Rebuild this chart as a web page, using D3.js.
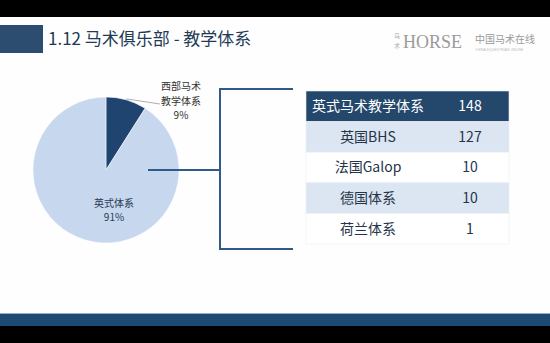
<!DOCTYPE html>
<html lang="zh">
<head>
<meta charset="utf-8">
<title>马术俱乐部 - 教学体系</title>
<script src="https://cdn.jsdelivr.net/npm/d3@7"></script>
<style>
  body { margin: 0; background: #000; }
  svg text { font-family: "Noto Sans CJK SC", "Noto Sans", sans-serif; }
</style>
</head>
<body>
<script>
// pie data
var pieNames = ["西部马术教学体系", "英式体系"];
var pieValues = [9, 91];
var pieLabels = [["西部马术", "教学体系", "9%"], ["英式体系", "91%"]];

// table data
var tableNames = ["英式马术教学体系", "英国BHS", "法国Galop", "德国体系", "荷兰体系"];
var tableCounts = [148, 127, 10, 10, 1];

var w = 550, h = 343;

var svg = d3.select("body").append("svg")
    .attr("width", w)
    .attr("height", h);

// slide background
svg.append("rect").attr("x", 0).attr("y", 0).attr("width", w).attr("height", h).attr("fill", "#000");
svg.append("rect").attr("x", 0).attr("y", 17).attr("width", w).attr("height", 297).attr("fill", "#fefefe");

// bottom band
svg.append("rect").attr("x", 0).attr("y", 313).attr("width", w).attr("height", 1).attr("fill", "#8fb0cc");
svg.append("rect").attr("x", 0).attr("y", 314).attr("width", w).attr("height", 12).attr("fill", "#1c4a74");

// title
svg.append("rect").attr("x", 0).attr("y", 25).attr("width", 43).attr("height", 28).attr("fill", "#2c4d70");
svg.append("text")
    .attr("x", 48).attr("y", 45)
    .attr("font-size", 17)
    .attr("fill", "#233a55")
    .text("1.12 马术俱乐部 - 教学体系");

// logos
var mark = svg.append("text").attr("x", 394).attr("y", 38).attr("font-size", 6).attr("fill", "#aaa");
mark.append("tspan").attr("x", 394).attr("dy", 0).text("马");
mark.append("tspan").attr("x", 394).attr("dy", 9.5).text("术");
svg.append("text")
    .attr("x", 403).attr("y", 48)
    .attr("font-size", 18)
    .attr("fill", "#9a9a9a")
    .style("font-family", "'Liberation Serif', serif")
    .attr("textLength", 59)
    .text("HORSE");
svg.append("text").attr("x", 475).attr("y", 43).attr("font-size", 10).attr("fill", "#999").text("中国马术在线");
svg.append("text").attr("x", 475).attr("y", 51).attr("font-size", 3.5).attr("fill", "#bbb")
    .style("font-family", "'Liberation Sans', sans-serif").text("CHINA EQUESTRIAN ONLINE");

// pie
var cx = 106, cy = 170, r = 73;
var pie = d3.pie().sort(null).value(function(d) { return d; });
var arc = d3.arc().innerRadius(0).outerRadius(r);
var colors = d3.scaleOrdinal().domain(pieNames).range(["#1f4470", "#c6d7ee"]);
var arcs = pie(pieValues);

var g = svg.append("g").attr("transform", "translate(" + cx + "," + cy + ")");
g.selectAll("path")
    .data(arcs)
    .enter()
    .append("path")
    .attr("d", arc)
    .attr("fill", function(d, i) { return colors(pieNames[i]); })
    .attr("stroke", "#fff")
    .attr("stroke-width", 0.5);

// label for small slice (outside, with leader)
var outer = d3.arc().innerRadius(r).outerRadius(r);
var p0 = outer.centroid(arcs[0]);
g.append("line")
    .attr("x1", p0[0]).attr("y1", p0[1] - 1)
    .attr("x2", 54).attr("y2", -66)
    .attr("stroke", "#999").attr("stroke-width", 0.8);
var lineGap = 14.5;
var outerLabel = g.append("text")
    .attr("y", -80)
    .attr("text-anchor", "middle")
    .attr("font-size", 10)
    .attr("fill", "#333");
outerLabel.selectAll("tspan")
    .data(pieLabels[0])
    .enter()
    .append("tspan")
    .attr("x", 75)
    .attr("dy", function(d, i) { return i === 0 ? 0 : lineGap; })
    .text(function(d) { return d; });

// label for big slice (inside)
var innerLabel = g.append("text")
    .attr("y", 36.5)
    .attr("text-anchor", "middle")
    .attr("font-size", 10)
    .attr("fill", "#2b3b55");
innerLabel.selectAll("tspan")
    .data(pieLabels[1])
    .enter()
    .append("tspan")
    .attr("x", 8)
    .attr("dy", function(d, i) { return i === 0 ? 0 : lineGap; })
    .text(function(d) { return d; });

// bracket
var bracket = svg.append("g")
    .attr("stroke", "#2f5b8c")
    .attr("stroke-width", 2)
    .attr("fill", "none");
bracket.append("path")
    .attr("d", "M148," + cy + "H220");
bracket.append("path")
    .attr("d", "M293,89H220V249H293");

// table
var tx = 306, tw = 203, ty = 91, rowH = 30.6;
var yScale = d3.scaleBand()
    .domain(tableNames)
    .range([ty, ty + rowH * tableNames.length]);
var xCol = [368, 470];
var rowFill = ["#24476c", "#dce6f2", "#ffffff", "#dce6f2", "#ffffff"];

var rows = svg.selectAll("g.row")
    .data(tableNames)
    .enter()
    .append("g")
    .attr("class", "row")
    .attr("transform", function(d) { return "translate(0," + yScale(d) + ")"; });

rows.append("rect")
    .attr("x", tx)
    .attr("width", tw)
    .attr("height", yScale.bandwidth())
    .attr("fill", function(d, i) { return rowFill[i]; })
    .attr("stroke", "#e8edf3")
    .attr("stroke-width", 0.6);

rows.append("text")
    .attr("x", xCol[0])
    .attr("y", yScale.bandwidth() / 2 + 5)
    .attr("text-anchor", "middle")
    .attr("font-size", 14)
    .attr("fill", function(d, i) { return i === 0 ? "#fff" : "#26344a"; })
    .text(function(d) { return d; });

rows.append("text")
    .attr("x", xCol[1])
    .attr("y", yScale.bandwidth() / 2 + 5)
    .attr("text-anchor", "middle")
    .attr("font-size", 14)
    .attr("fill", function(d, i) { return i === 0 ? "#fff" : "#26344a"; })
    .text(function(d, i) { return tableCounts[i]; });
</script>
</body>
</html>
